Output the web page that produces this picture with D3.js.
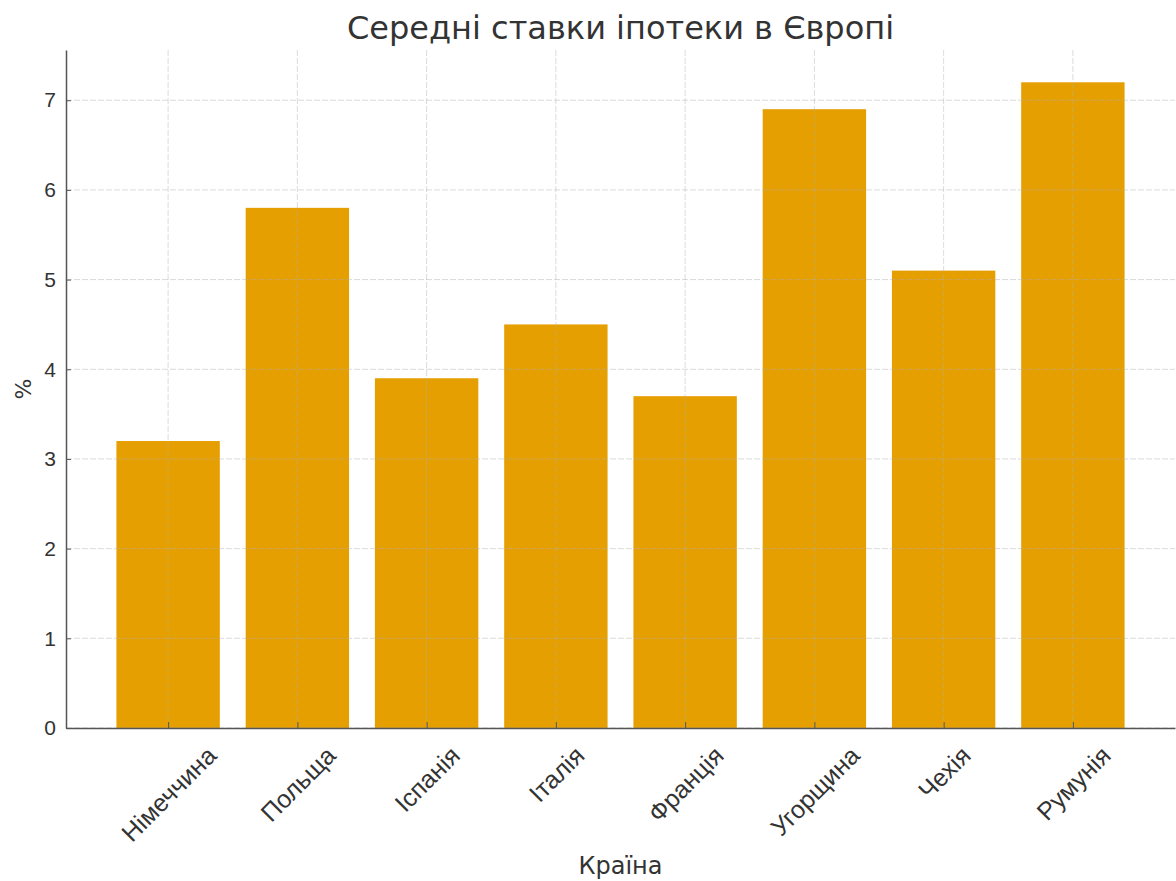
<!DOCTYPE html>
<html>
<head>
<meta charset="utf-8">
<script src="https://cdn.jsdelivr.net/npm/d3@7"></script>
<style>
  body { margin: 0; background: #fff; }
  svg { font-family: "DejaVu Sans", sans-serif; }
  .axis path, .axis line { stroke: #555; }
  .axis text { fill: #333; }
</style>
</head>
<body>
<svg id="chart"></svg>
<script>
// data
const countries = ['Німеччина', 'Польща', 'Іспанія', 'Італія', 'Франція', 'Угорщина', 'Чехія', 'Румунія'];
const rates = [3.2, 5.8, 3.9, 4.5, 3.7, 6.9, 5.1, 7.2];
const yTicks = [0, 1, 2, 3, 4, 5, 6, 7];

const width = 1176, height = 881;
const margin = {top: 50, right: 1, bottom: 153, left: 66};
const innerW = width - margin.left - margin.right;
const innerH = height - margin.top - margin.bottom;
const tickFont = 21;
const xTickFont = 25;

const svg = d3.select('#chart')
  .attr('width', width)
  .attr('height', height);

const chart = svg.append('g')
  .attr('transform', `translate(${margin.left},${margin.top})`);

// matplotlib-like linear x positions: bars of width 0.8 with 5% margins
const xLin = d3.scaleLinear()
  .domain([-0.79, countries.length - 1 + 0.79])
  .range([0, innerW]);
const barW = xLin(0.8) - xLin(0);

const yScale = d3.scaleLinear()
  .domain([0, d3.max(rates) * 1.05])
  .range([innerH, 0]);

const data = countries.map((c, i) => ({country: c, rate: rates[i], i}));

// bars
chart.selectAll('.bar')
  .data(data)
  .join('rect')
    .attr('class', 'bar')
    .attr('x', d => xLin(d.i) - barW / 2)
    .attr('width', barW)
    .attr('y', d => yScale(d.rate))
    .attr('height', d => innerH - yScale(d.rate))
    .style('fill', '#E69F00');

// grid on top, faint
const grid = chart.append('g').attr('class', 'grid');
grid.selectAll('.hgrid')
  .data(yTicks)
  .join('line')
    .attr('x1', 0).attr('x2', innerW)
    .attr('y1', d => yScale(d)).attr('y2', d => yScale(d))
    .attr('stroke', '#b0b0b0')
    .attr('stroke-opacity', 0.45)
    .attr('stroke-dasharray', '6,2');
grid.selectAll('.vgrid')
  .data(d3.range(countries.length))
  .join('line')
    .attr('x1', d => xLin(d)).attr('x2', d => xLin(d))
    .attr('y1', 0).attr('y2', innerH)
    .attr('stroke', '#b0b0b0')
    .attr('stroke-opacity', 0.45)
    .attr('stroke-dasharray', '6,2');

// axes
const yAxis = d3.axisLeft(yScale)
  .tickValues(yTicks)
  .tickFormat(d3.format('d'))
  .tickSize(-5)
  .tickPadding(10)
  .tickSizeOuter(0);

const yAxisG = chart.append('g')
  .attr('class', 'axis y-axis')
  .call(yAxis);
yAxisG.selectAll('text').attr('font-size', tickFont);
yAxisG.select('.domain').attr('stroke-width', 1.5);

const xAxis = d3.axisBottom(xLin)
  .tickValues(d3.range(countries.length))
  .tickFormat(i => countries[i])
  .tickSize(-6)
  .tickSizeOuter(0);

const xAxisG = chart.append('g')
  .attr('class', 'axis x-axis')
  .attr('transform', `translate(0,${innerH})`)
  .call(xAxis);
xAxisG.select('.domain').attr('stroke-width', 1.5);

// rotate labels 45deg, centred on the tick like matplotlib ha='center'
xAxisG.selectAll('text')
  .attr('font-size', xTickFont)
  .attr('text-anchor', 'middle')
  .attr('dominant-baseline', 'central')
  .attr('dy', null)
  .attr('y', 0)
  .each(function() {
    const len = this.getComputedTextLength();
    const half = (len + xTickFont) / (2 * Math.SQRT2);
    d3.select(this).attr('transform', `translate(0,${14 + half}) rotate(-45)`);
  });

// title and axis labels
svg.append('text')
  .attr('x', margin.left + innerW / 2)
  .attr('y', 39)
  .attr('text-anchor', 'middle')
  .attr('font-size', 32)
  .attr('fill', '#333')
  .text('Середні ставки іпотеки в Європі');

svg.append('text')
  .attr('transform', `translate(31,${margin.top + innerH / 2}) rotate(-90)`)
  .attr('text-anchor', 'middle')
  .attr('font-size', 22)
  .attr('fill', '#333')
  .text('%');

svg.append('text')
  .attr('x', margin.left + innerW / 2)
  .attr('y', 874)
  .attr('text-anchor', 'middle')
  .attr('font-size', 24)
  .attr('fill', '#333')
  .text('Країна');
</script>
</body>
</html>
